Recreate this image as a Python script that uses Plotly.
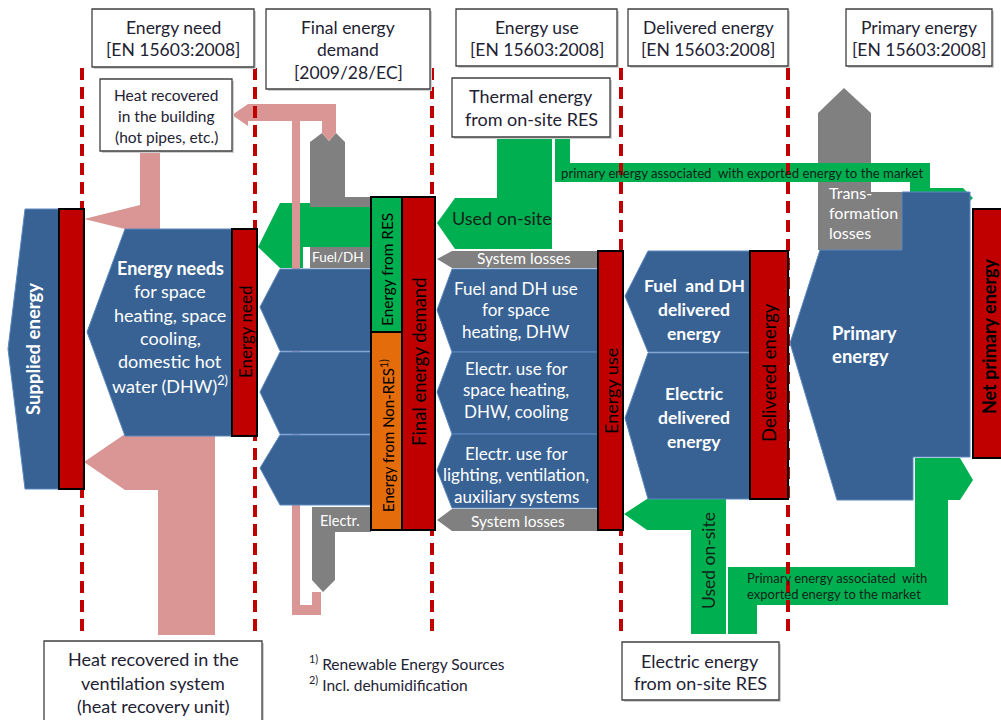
import plotly.graph_objects as go

FONT = "Lato"
BLUE = "#386293"
BLUE_EDGE = "#5B87BE"
RED = "#C00000"
GREEN = "#00B050"
ORANGE = "#E46C0A"
GREY = "#808080"
PINK = "#D99694"
INK = "#1E2233"

# ---- text content ----
HEADER_LINES = [
    ["Energy need", "[EN 15603:2008]"],
    ["Final energy", "demand", "[2009/28/EC]"],
    ["Energy use", "[EN 15603:2008]"],
    ["Delivered energy", "[EN 15603:2008]"],
    ["Primary energy", "[EN 15603:2008]"],
]
NOTE_LINES = [
    ["Heat recovered", "in the building", "(hot pipes, etc.)"],
    ["Thermal energy", "from on-site RES"],
    ["Heat recovered in the", "ventilation system", "(heat recovery unit)"],
    ["Electric energy", "from on-site RES"],
]
FOOTNOTES = ["<sup>1)</sup> Renewable Energy Sources", "<sup>2)</sup> Incl. dehumidification"]
NEEDS_LINES = ["<b>Energy needs</b>", "for space", "heating, space", "cooling,",
               "domestic hot", "water (DHW)<sup>2)</sup>"]
USE_LINES = [
    ["Fuel and DH use", "for space", "heating, DHW"],
    ["Electr. use for", "space heating,", "DHW, cooling"],
    ["Electr. use for", "lighting, ventilation,", "auxiliary systems"],
]
DELIVERED_LINES = [["Fuel&nbsp; and DH", "delivered", "energy"], ["Electric", "delivered", "energy"]]
PRIMARY_LINES = ["Primary", "energy"]
TRANSFORM_LINES = ["Trans-", "formation", "losses"]
BAR_LABELS = ["Supplied energy", "Energy need", "Energy from RES", "Energy from Non-RES<sup>1)</sup>",
              "Final energy demand", "Energy use", "Delivered energy", "Net primary energy"]
EXPORT_TOP = "primary energy associated&nbsp; with exported energy to the market"
EXPORT_BOTTOM = ["Primary energy associated&nbsp; with", "exported energy to the market"]

# ---- geometry (pixel space, y downwards) ----
STAGE_LINES_X = [82, 255, 432, 621, 788]
HEADER_BOXES = [(92, 9, 254, 67), (266, 9, 430, 89), (456, 9, 617, 66), (628, 9, 788, 66), (846, 9, 992, 66)]
NOTE_BOXES = [(100, 79, 232, 151), (452, 78, 610, 137), (44, 641, 262, 730), (622, 642, 779, 700)]

shapes = []
annotations = []


def poly(pts, fill, edge=None, width=0):
    path = "M " + " L ".join(f"{x},{y}" for x, y in pts) + " Z"
    shapes.append(dict(type="path", path=path, xref="x", yref="y", fillcolor=fill,
                       line=dict(color=edge or fill, width=width)))


def rect(box, fill, edge, width):
    x0, y0, x1, y1 = box
    shapes.append(dict(type="rect", x0=x0, y0=y0, x1=x1, y1=y1, xref="x", yref="y",
                       fillcolor=fill, line=dict(color=edge, width=width)))


def text(x, y, lines, size, color=INK, bold=False, dy=None, anchor="center", angle=0):
    dy = dy or size * 1.35
    for i, ln in enumerate(lines):
        t = f"<b>{ln}</b>" if bold else ln
        annotations.append(dict(x=x, y=y + i * dy, text=t, showarrow=False, xref="x", yref="y",
                                xanchor=anchor, yanchor="middle", textangle=angle,
                                font=dict(family=FONT, size=size, color=color)))


# pink heat recovery flows
poly([(84, 219), (140, 205), (140, 151), (160, 151), (160, 229), (125, 229)], PINK)
poly([(84, 462), (125, 434), (215, 434), (215, 635), (158, 635), (158, 490), (125, 490)], PINK)

# grey losses
poly([(310, 268), (310, 142), (322, 133), (329, 141), (336, 133), (345, 142), (345, 197),
      (371, 197), (371, 268)], GREY)
poly([(312, 507), (371, 507), (371, 532), (335, 532), (335, 580), (323, 592), (312, 580)], GREY)
poly([(437, 259), (452, 251), (598, 251), (598, 268), (452, 268)], GREY)
poly([(437, 520), (452, 509), (598, 509), (598, 531), (452, 531)], GREY)
poly([(818, 250), (818, 113), (844, 88), (871, 113), (871, 192), (902, 192), (902, 250)], GREY)

# green renewable flows
poly([(258, 247), (280, 203), (310, 203), (310, 207), (371, 207), (371, 247), (303, 247),
      (303, 268), (280, 268)], GREEN)
poly([(497, 137), (552, 137), (552, 249), (455, 249), (437, 223), (455, 198), (497, 198)], GREEN)
poly([(555, 137), (570, 137), (570, 163), (930, 163), (930, 188), (963, 188), (973, 198),
      (963, 208), (910, 208), (910, 182), (555, 182)], GREEN)
poly([(624, 514), (647, 499), (726, 499), (726, 634), (691, 634), (691, 530), (647, 530)], GREEN)
poly([(728, 634), (757, 634), (757, 605), (948, 605), (948, 500), (960, 500), (973, 480),
      (960, 458), (915, 458), (915, 567), (728, 567)], GREEN)

# pink loop (heat recovered in the building), over the grey losses
poly([(232, 115), (248, 104), (336, 104), (336, 133), (329, 141), (322, 133), (322, 121),
      (300, 121), (300, 605), (312, 605), (312, 592), (321, 592), (321, 615), (292, 615),
      (292, 121), (248, 121), (248, 126)], PINK)

# blue energy blocks
poly([(25, 209), (59, 209), (59, 489), (25, 489), (8, 349)], BLUE, BLUE_EDGE, 1)
poly([(125, 229), (232, 229), (232, 436), (125, 436), (87, 332)], BLUE, BLUE_EDGE, 1)
for top, bot, tip in [(269, 351, 307), (352, 434, 392), (435, 505, 468)]:
    poly([(280, top), (371, top), (371, bot), (280, bot), (260, tip)], BLUE, BLUE_EDGE, 1)
for top, bot, tip in [(269, 352, 310), (352, 434, 392), (434, 508, 470)]:
    poly([(452, top), (598, top), (598, bot), (452, bot), (437, tip)], BLUE, BLUE_EDGE, 1)
for top, bot, tip in [(251, 352, 296), (353, 499, 418)]:
    poly([(648, top), (750, top), (750, bot), (648, bot), (625, tip)], BLUE, BLUE_EDGE, 1)
poly([(820, 250), (902, 250), (902, 192), (970, 192), (970, 457), (913, 457), (913, 500),
      (837, 500), (790, 343)], BLUE, BLUE_EDGE, 1)

# dashed stage boundaries
for x in STAGE_LINES_X:
    shapes.append(dict(type="line", x0=x, x1=x, y0=68, y1=636, xref="x", yref="y",
                       line=dict(color=RED, width=4, dash="12px,7px")))

# stage bars
rect((59, 209, 84, 489), RED, "black", 2)
rect((232, 229, 257, 436), RED, "black", 2)
rect((371, 197, 402, 332), GREEN, "black", 2)
rect((371, 332, 402, 530), ORANGE, "black", 2)
rect((402, 197, 435, 530), RED, "black", 2)
rect((598, 251, 623, 530), RED, "black", 2)
rect((750, 251, 788, 499), RED, "black", 2)
rect((973, 209, 1010, 458), RED, "black", 2)

# boxes
for box in HEADER_BOXES + NOTE_BOXES:
    x0, y0, x1, y1 = box
    rect((x0 + 2, y0 + 2, x1 + 2, y1 + 2), "#D0D0D0", "#D0D0D0", 0)
    rect(box, "white", "#404040", 1.3)

# header texts
header_pos = [(173, 27), (348, 27), (537, 27), (708, 27), (919, 27)]
for (x, y), lines in zip(header_pos, HEADER_LINES):
    text(x, y, lines, 17.5, dy=22.5)

text(166, 95, NOTE_LINES[0], 15.5, dy=21)
text(531, 96, NOTE_LINES[1], 18, dy=23)
text(153, 659, NOTE_LINES[2], 18, dy=23.5)
text(700, 661, NOTE_LINES[3], 18, dy=22)
text(307, 662, FOOTNOTES, 15.5, dy=21, anchor="left")

# blue block texts
text(170, 268, NEEDS_LINES, 18, color="white", dy=23.3)
for y, lines in zip([288, 368, 453], USE_LINES):
    text(516, y, lines, 17, color="white", dy=21.8)
for y, lines in zip([285, 393], DELIVERED_LINES):
    text(694, y, lines, 17.5, color="white", bold=True, dy=24)
text(830, 333, PRIMARY_LINES, 18.5, color="white", bold=True, dy=23, anchor="left")
text(827, 192, TRANSFORM_LINES, 16, color="white", dy=20, anchor="left")

# grey / green labels
text(338, 257, ["Fuel/DH"], 13.5, color="white")
text(340, 520, ["Electr."], 14.5, color="white")
text(524, 258, ["System losses"], 15.5, color="white")
text(518, 521, ["System losses"], 15.5, color="white")
text(502, 218, ["Used on-site"], 18, color="#10241A")
text(708, 561, ["Used on-site"], 17.5, color="#10241A", angle=-90)
text(742, 173, [EXPORT_TOP], 13.2, color="#10241A")
text(745, 578, EXPORT_BOTTOM, 13, color="#10241A", dy=16, anchor="left")

# rotated bar labels
bar_text_pos = [(33, 349, "white", True, 18.5), (245, 332, "black", False, 17),
                (387, 270, "black", False, 15.4), (387, 436, "black", False, 15),
                (419, 362, "black", False, 18.5), (611, 391, "black", False, 18),
                (769, 373, "black", False, 18.5), (989, 336, "black", True, 18)]
for (x, y, c, b, size), lab in zip(bar_text_pos, BAR_LABELS):
    text(x, y, [lab], size, color=c, bold=b, angle=-90)

fig = go.Figure()
fig.update_layout(
    width=1001,
    height=720,
    margin=dict(l=0, r=0, t=0, b=0),
    xaxis=dict(range=[0, 1001], visible=False, fixedrange=True),
    yaxis=dict(range=[720, 0], visible=False, fixedrange=True),
    plot_bgcolor="white",
    paper_bgcolor="white",
    shapes=shapes,
    annotations=annotations,
    showlegend=False,
)

# the page body has a default 8px margin; drop it so the drawing sits at the window origin
fig.write_html(
    "out.html",
    config={"displayModeBar": False},
    post_script="document.body.style.margin='0';document.body.style.overflow='hidden';",
)
